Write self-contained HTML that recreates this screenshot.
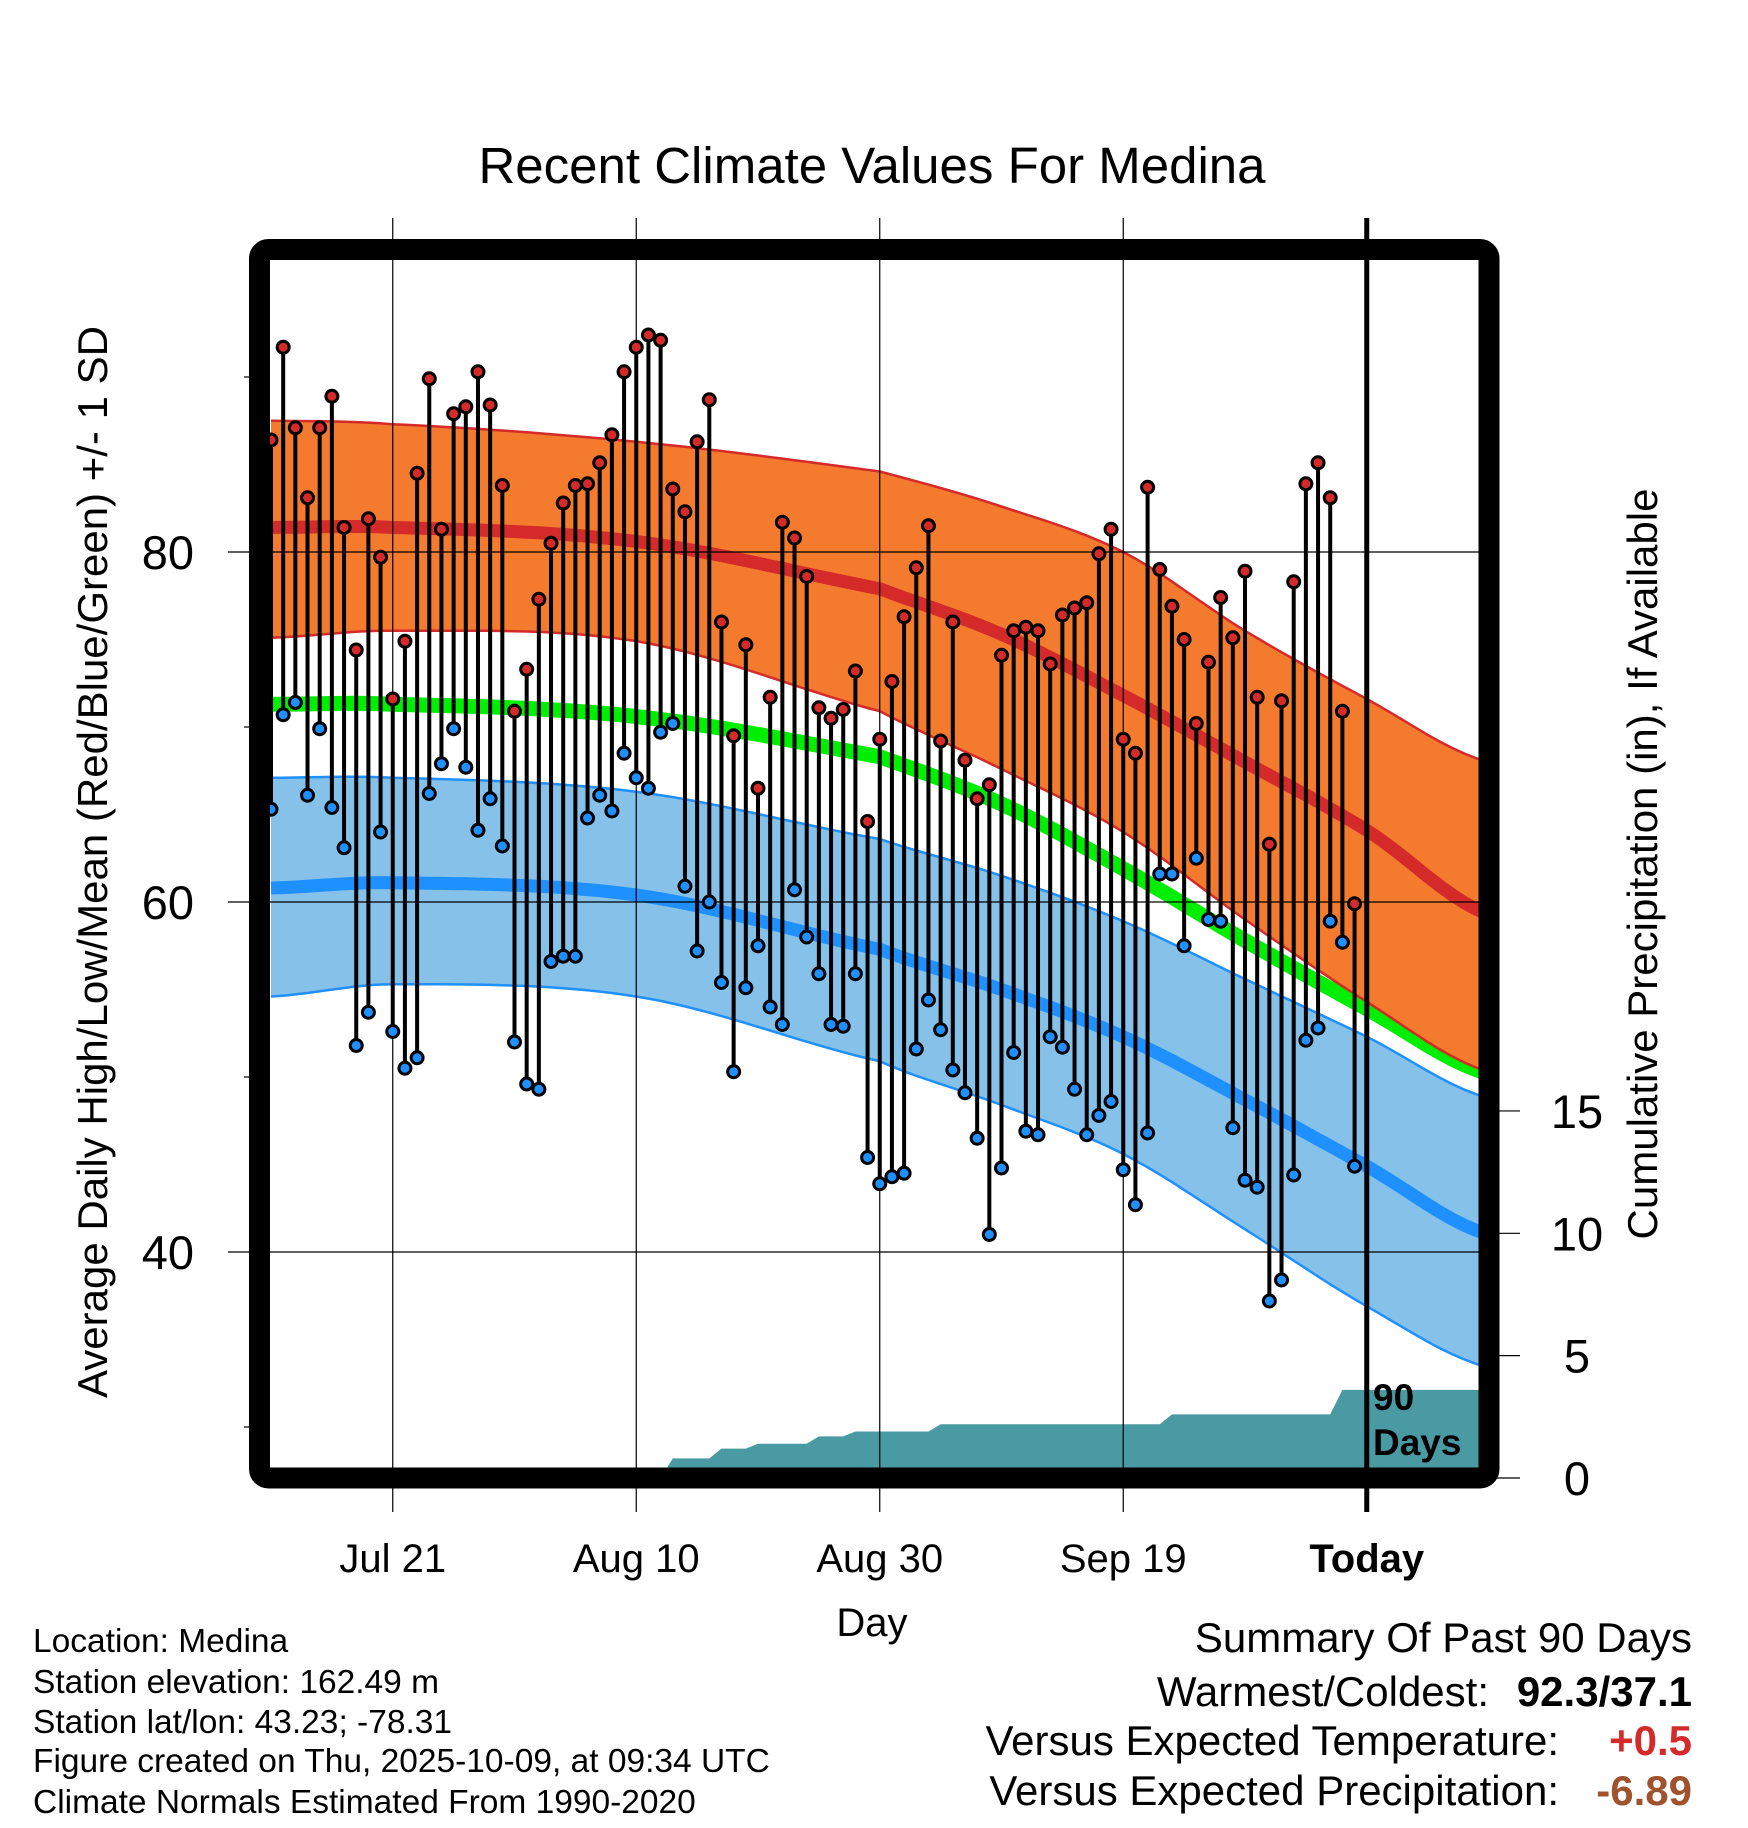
<!DOCTYPE html>
<html><head><meta charset="utf-8"><style>
html,body{margin:0;padding:0;background:#fff;}
svg{display:block;font-family:"Liberation Sans",Arial,sans-serif;}
</style></head><body>
<svg id="chart" width="1748" height="1828" viewBox="0 0 1748 1828" xmlns="http://www.w3.org/2000/svg">
<defs><clipPath id="plotclip"><rect x="270" y="260" width="1209" height="1208"/></clipPath></defs>
<text x="872" y="183" font-size="51" text-anchor="middle">Recent Climate Values For Medina</text>
<g id="bands" clip-path="url(#plotclip)"></g>
<g id="grid"></g>
<g id="marks" clip-path="url(#plotclip)"></g>
<rect x="259.5" y="249.5" width="1229.5" height="1228.5" rx="9" fill="none" stroke="#000" stroke-width="21"/>
<text transform="translate(107,862) rotate(-90)" font-size="42" text-anchor="middle">Average Daily High/Low/Mean (Red/Blue/Green) +/- 1 SD</text>
<text transform="translate(1657,864) rotate(-90)" font-size="42" text-anchor="middle">Cumulative Precipitation (in), If Available</text>
<text x="872" y="1636" font-size="40" text-anchor="middle">Day</text>
<text x="1373" y="1410" font-size="37" font-weight="bold">90</text>
<text x="1373" y="1455" font-size="37" font-weight="bold">Days</text>
<g font-size="33.5">
<text x="33" y="1652">Location: Medina</text>
<text x="33" y="1693">Station elevation: 162.49 m</text>
<text x="33" y="1733">Station lat/lon: 43.23; -78.31</text>
<text x="33" y="1772">Figure created on Thu, 2025-10-09, at 09:34 UTC</text>
<text x="33" y="1813">Climate Normals Estimated From 1990-2020</text>
</g>
<g font-size="42">
<text x="1692" y="1652" text-anchor="end">Summary Of Past 90 Days</text>
<text x="1489" y="1706" text-anchor="end">Warmest/Coldest:</text>
<text x="1692" y="1706" text-anchor="end" font-weight="bold">92.3/37.1</text>
<text x="1559" y="1755" text-anchor="end">Versus Expected Temperature:</text>
<text x="1692" y="1755" text-anchor="end" font-weight="bold" fill="#d42a2a">+0.5</text>
<text x="1559" y="1805" text-anchor="end">Versus Expected Precipitation:</text>
<text x="1692" y="1805" text-anchor="end" font-weight="bold" fill="#a0522d">-6.89</text>
</g>
</svg>
<script>
const highs=[86.4,91.7,87.1,83.1,87.1,88.9,81.4,74.4,81.9,79.7,71.6,74.9,84.5,89.9,81.3,87.9,88.3,90.3,88.4,83.8,70.9,73.3,77.3,80.5,82.8,83.8,83.9,85.1,86.7,90.3,91.7,92.4,92.1,83.6,82.3,86.3,88.7,76,69.5,74.7,66.5,71.7,81.7,80.8,78.6,71.1,70.5,71,73.2,64.6,69.3,72.6,76.3,79.1,81.5,69.2,76,68.1,65.9,66.7,74.1,75.5,75.7,75.5,73.6,76.4,76.8,77.1,79.9,81.3,69.3,68.5,83.7,79,76.9,75,70.2,73.7,77.4,75.1,78.9,71.7,63.3,71.5,78.3,83.9,85.1,83.1,70.9,59.9];
const lows=[65.3,70.7,71.4,66.1,69.9,65.4,63.1,51.8,53.7,64,52.6,50.5,51.1,66.2,67.9,69.9,67.7,64.1,65.9,63.2,52,49.6,49.3,56.6,56.9,56.9,64.8,66.1,65.2,68.5,67.1,66.5,69.7,70.2,60.9,57.2,60,55.4,50.3,55.1,57.5,54,53,60.7,58,55.9,53,52.9,55.9,45.4,43.9,44.3,44.5,51.6,54.4,52.7,50.4,49.1,46.5,41,44.8,51.4,46.9,46.7,52.3,51.7,49.3,46.7,47.8,48.6,44.7,42.7,46.8,61.6,61.6,57.5,62.5,59,58.9,47.1,44.1,43.7,37.2,38.4,44.4,52.1,52.8,58.9,57.7,44.9];
const normDays=[0,10,30,50,60,70,80,90,100];
const normHighUpper=[87.5,87.3,86.3,84.6,82.6,80.0,75.5,71.6,68.0];
const normHighMean=[81.4,81.4,80.6,77.9,75.3,71.8,68.0,64.1,59.3];
const normHighLower=[75.1,75.5,74.9,70.9,67.6,64.0,59.0,54.3,50.3];
const normMean=[71.3,71.3,70.6,68.3,65.6,61.9,57.8,53.9,50.2];
const normLowUpper=[67.1,67.1,66.3,63.6,61.5,58.9,55.6,52.3,48.8];
const normLowMean=[60.8,61.1,60.4,57.3,55.0,52.3,48.7,44.9,41.0];
const normLowLower=[54.6,55.3,54.6,50.9,48.4,45.6,41.3,36.9,33.4];
const dailyPrecipDays=[33,37,40,45,48,55,74,88];
const dailyPrecipAmounts=[0.8,0.4,0.2,0.3,0.2,0.3,0.4,1.0];
const xTickDays=[10,30,50,70,90];
const xTickLabels=["Jul 21","Aug 10","Aug 30","Sep 19","Today"];
const yTicks=[40,60,80];
const yMinorTicks=[30,50,70,90];
const pTicks=[0,5,10,15];

const NS="http://www.w3.org/2000/svg";
const xs=d=>271+d*12.175;
const ys=t=>552+(80-t)*17.5;
const yp=p=>1478-p*24.47;
function mk(tag,attrs,parent){const e=document.createElementNS(NS,tag);for(const k in attrs)e.setAttribute(k,attrs[k]);parent.appendChild(e);return e;}
function interp(arr,d){for(let i=0;i<normDays.length-1;i++){if(d<=normDays[i+1]){const p0=arr[Math.max(i-1,0)],p1=arr[i],p2=arr[i+1],p3=arr[Math.min(i+2,arr.length-1)];const t=(d-normDays[i])/(normDays[i+1]-normDays[i]);const t2=t*t,t3=t2*t;return 0.5*((2*p1)+(-p0+p2)*t+(2*p0-5*p1+4*p2-p3)*t2+(-p0+3*p1-3*p2+p3)*t3);}}return arr[arr.length-1];}
function pts(arr){const r=[];for(let d=0;d<=100;d+=1)r.push([xs(d),ys(interp(arr,d))]);return r;}
function line(p){return p.map((q,i)=>(i?'L':'M')+q[0].toFixed(1)+' '+q[1].toFixed(1)).join(' ');}
function band(up,lo){const a=pts(up),b=pts(lo).reverse();return line(a)+' '+b.map(q=>'L'+q[0].toFixed(1)+' '+q[1].toFixed(1)).join(' ')+' Z';}
const bands=document.getElementById('bands');
let e;
e=mk('path',{d:band(normLowUpper,normLowLower),fill:'#85c1e9'},bands);


e=mk('path',{d:line(pts(normLowUpper)),fill:'none',stroke:'#1e90ff','stroke-width':2.5},bands);


e=mk('path',{d:line(pts(normLowLower)),fill:'none',stroke:'#1e90ff','stroke-width':2.5},bands);


e=mk('path',{d:line(pts(normLowMean)),fill:'none',stroke:'#1e90ff','stroke-width':13},bands);


e=mk('path',{d:line(pts(normMean)),fill:'none',stroke:'#00ee00','stroke-width':15},bands);


e=mk('path',{d:band(normHighUpper,normHighLower),fill:'#f47a2e'},bands);


e=mk('path',{d:line(pts(normHighUpper)),fill:'none',stroke:'#d42a2a','stroke-width':2.5},bands);


e=mk('path',{d:line(pts(normHighLower)),fill:'none',stroke:'#d42a2a','stroke-width':2.5},bands);


e=mk('path',{d:line(pts(normHighMean)),fill:'none',stroke:'#d42a2a','stroke-width':13},bands);


// precipitation
const cum=[];let c=0;
for(let d=0;d<=100;d++){const i=dailyPrecipDays.indexOf(d);if(i>=0)c+=dailyPrecipAmounts[i];cum.push(c);}
let pd='M'+xs(0)+' '+yp(0);
for(let d=0;d<=100;d++)pd+=' L'+xs(d).toFixed(1)+' '+yp(cum[d]).toFixed(1);
pd+=' L'+xs(100)+' '+yp(0)+' Z';
e=mk('path',{d:pd,fill:'#4a9aa3'},bands);


// grid
const grid=document.getElementById('grid');
xTickDays.forEach((d,i)=>{
  const today=xTickLabels[i]==='Today';
  e=mk('line',{x1:xs(d),x2:xs(d),y1:218,y2:1512,stroke:'#000','stroke-width':today?5:1.2},grid);
  
  
  e=mk('text',{x:xs(d),y:1572,'font-size':40,'text-anchor':'middle','font-weight':today?'bold':'normal'},grid);
  e.textContent=xTickLabels[i];
  
  
});
yTicks.forEach(t=>{
  e=mk('line',{x1:228,x2:1479,y1:ys(t),y2:ys(t),stroke:'#000','stroke-width':1.2},grid);
  
  
  e=mk('text',{x:194,y:ys(t)+17,'font-size':47,'text-anchor':'end'},grid);
  e.textContent=t;
  
  
});
yMinorTicks.forEach(t=>{
  e=mk('line',{x1:244,x2:260,y1:ys(t),y2:ys(t),stroke:'#000','stroke-width':1.2},grid);
  
  
});
pTicks.forEach(p=>{
  e=mk('line',{x1:1489,x2:1520,y1:yp(p),y2:yp(p),stroke:'#000','stroke-width':1.2},grid);
  
  
  e=mk('text',{x:1577,y:yp(p)+17,'font-size':47,'text-anchor':'middle'},grid);
  e.textContent=p;
  
  
});
// marks
const marks=document.getElementById('marks');
highs.forEach((h,i)=>{
  e=mk('line',{x1:xs(i),x2:xs(i),y1:ys(h),y2:ys(lows[i]),stroke:'#000','stroke-width':4},marks);
  
  
});
highs.forEach((h,i)=>{
  e=mk('circle',{cx:xs(i),cy:ys(h),r:6,fill:'#d42a2a',stroke:'#000','stroke-width':3},marks);
  
  
  e=mk('circle',{cx:xs(i),cy:ys(lows[i]),r:6,fill:'#1e90ff',stroke:'#000','stroke-width':3},marks);
  
  
});
</script>
</body></html>
